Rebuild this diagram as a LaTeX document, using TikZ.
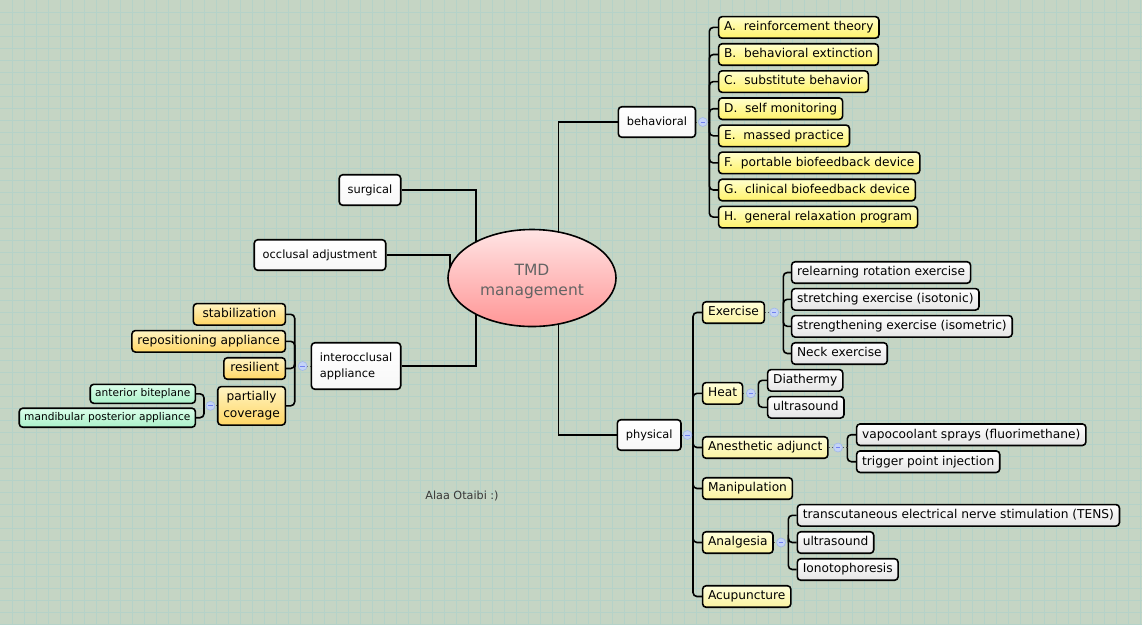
\documentclass[tikz,border=0pt]{standalone}
\usepackage{fontspec}
\setmainfont{DejaVu Sans}
\usetikzlibrary{shapes.geometric,calc}
\pgfdeclarelayer{bg}
\pgfdeclarelayer{edges}
\pgfsetlayers{bg,edges,main}
\definecolor{bgc}{RGB}{197,213,196}
\definecolor{gridc}{RGB}{181,210,200}
\definecolor{yAtop}{RGB}{255,255,205}
\definecolor{yAbot}{RGB}{255,242,105}
\definecolor{yBtop}{RGB}{255,255,220}
\definecolor{yBbot}{RGB}{250,242,160}
\definecolor{oTop}{RGB}{255,244,195}
\definecolor{oBot}{RGB}{255,214,100}
\definecolor{gTop}{RGB}{255,255,255}
\definecolor{gBot}{RGB}{228,228,228}
\definecolor{mTop}{RGB}{220,255,235}
\definecolor{mBot}{RGB}{170,240,200}
\definecolor{pTop}{RGB}{255,228,228}
\definecolor{pBot}{RGB}{255,150,150}
\definecolor{dotfill}{RGB}{196,211,247}
\definecolor{dotdraw}{RGB}{160,184,235}
\definecolor{tmdtext}{RGB}{100,100,100}
\tikzset{
  box/.style={draw=black, line width=1.6pt, rounded corners=3.5pt,
    font=\fontsize{12.2}{15}\selectfont, inner xsep=5.5pt, inner ysep=0pt,
    minimum height=21.5pt, text height=9.2pt, text depth=2.6pt},
  lone/.style={box, font=\fontsize{11.4}{15}\selectfont, inner xsep=8.5pt,
    minimum height=30.5pt, top color=white, bottom color=gray!6},
  ytwo/.style={box, top color=yAtop, bottom color=yAbot},
  ythree/.style={box, top color=yBtop, bottom color=yBbot},
  otwo/.style={box, top color=oTop, bottom color=oBot},
  leaf/.style={box, top color=gTop, bottom color=gBot},
  mint/.style={box, font=\fontsize{10.6}{13}\selectfont, minimum height=19pt,
    text height=8pt, text depth=2.3pt, inner xsep=5pt, top color=mTop, bottom color=mBot},
  edge/.style={draw=black, line width=1.6pt},
  branchline/.style={edge, rounded corners=4pt},
  dotline/.style={draw=black!65, line width=0.9pt, dotted},
  knob/.style={circle, minimum size=9pt, inner sep=0pt, fill=dotfill, draw=dotdraw,
    line width=0.6pt, path picture={\draw[dotdraw!70!blue, line width=0.8pt]
      ([xshift=-2.2pt]path picture bounding box.center) -- ([xshift=2.2pt]path picture bounding box.center);}}
}
\begin{document}
\begin{tikzpicture}[x=1pt,y=-1pt]
\useasboundingbox (0,0) rectangle (1142,625);
\begin{pgfonlayer}{bg}
  \fill[bgc] (0,0) rectangle (1142,625);
  \foreach \i in {12,24,...,1140} \draw[gridc, line width=0.9pt] (\i,0) -- (\i,625);
  \foreach \j in {12,24,...,624} \draw[gridc, line width=0.9pt] (0,\j) -- (1142,\j);
\end{pgfonlayer}

% central node
\node[ellipse, draw=black, line width=1.6pt, minimum width=168pt, minimum height=97pt,
  top color=pTop, bottom color=pBot, inner sep=0pt,
  label={[align=center, font=\fontsize{15.5}{20}\selectfont, text=tmdtext, yshift=-3pt]center:{TMD\\management}}] (tmd) at (532,278) {};

% level one
\node[lone, anchor=west] (behav) at (617.5,122) {behavioral};
\node[lone, anchor=west] (phys) at (616.5,435) {physical};
\node[lone, anchor=east] (surg) at (401.5,190) {surgical};
\node[lone, anchor=east] (occl) at (386.5,255) {occlusal adjustment};
\node[lone, anchor=east, align=left, minimum height=46.5pt, text height=, text depth=,
  font=\fontsize{11.4}{16}\selectfont] (inter) at (401.5,366) {interocclusal\\appliance};

% behavioral children
\node[ytwo, anchor=west] (b1) at (717.8,27.4) {A.\ \ reinforcement theory};
\node[ytwo, anchor=west] (b2) at (717.8,54.5) {B.\ \ behavioral extinction};
\node[ytwo, anchor=west] (b3) at (717.8,81.6) {C.\ \ substitute behavior};
\node[ytwo, anchor=west] (b4) at (717.8,108.7) {D.\ \ self monitoring};
\node[ytwo, anchor=west] (b5) at (717.8,135.8) {E.\ \ massed practice};
\node[ytwo, anchor=west] (b6) at (717.8,162.9) {F.\ \ portable biofeedback device};
\node[ytwo, anchor=west] (b7) at (717.8,190.0) {G.\ \ clinical biofeedback device};
\node[ytwo, anchor=west] (b8) at (717.8,217.1) {H.\ \ general relaxation program};

% physical children
\node[ythree, anchor=west] (p1) at (701.8,312.5) {Exercise};
\node[ythree, anchor=west] (p2) at (701.8,393.3) {Heat};
\node[ythree, anchor=west] (p3) at (701.8,447.5) {Anesthetic adjunct};
\node[ythree, anchor=west] (p4) at (701.8,488.5) {Manipulation};
\node[ythree, anchor=west] (p5) at (701.8,542.5) {Analgesia};
\node[ythree, anchor=west] (p6) at (701.8,596.5) {Acupuncture};

% exercise leaves
\node[leaf, anchor=west] (e1) at (790.8,272.5) {relearning rotation exercise};
\node[leaf, anchor=west] (e2) at (790.8,299.3) {stretching exercise (isotonic)};
\node[leaf, anchor=west] (e3) at (790.8,326.3) {strengthening exercise (isometric)};
\node[leaf, anchor=west] (e4) at (790.8,353.5) {Neck exercise};
% heat leaves
\node[leaf, anchor=west] (h1) at (766.8,380.3) {Diathermy};
\node[leaf, anchor=west] (h2) at (766.8,407.3) {ultrasound};
% anesthetic leaves
\node[leaf, anchor=west] (a1) at (855.8,434.7) {vapocoolant sprays (fluorimethane)};
\node[leaf, anchor=west] (a2) at (855.8,461.7) {trigger point injection};
% analgesia leaves
\node[leaf, anchor=west] (n1) at (796.5,515.3) {transcutaneous electrical nerve stimulation (TENS)};
\node[leaf, anchor=west] (n2) at (796.5,542.5) {ultrasound};
\node[leaf, anchor=west] (n3) at (796.5,569.5) {Ionotophoresis};

% interocclusal children
\node[otwo, anchor=east, minimum width=92pt] (i1) at (286.2,314.3) {stabilization};
\node[otwo, anchor=east] (i2) at (286.2,341.3) {repositioning appliance};
\node[otwo, anchor=east, minimum width=61.5pt] (i3) at (286.2,368.5) {resilient};
\node[otwo, anchor=east, align=center, minimum height=38.5pt, text height=, text depth=,
  font=\fontsize{12.2}{17}\selectfont] (i4) at (286.2,405.8) {partially\\coverage};
% partially coverage children
\node[mint, anchor=east] (c1) at (196.2,393.8) {anterior biteplane};
\node[mint, anchor=east] (c2) at (196.2,417.7) {mandibular posterior appliance};

% signature
\node[font=\fontsize{11.2}{13}\selectfont, text=black!78, inner sep=0pt] (sig) at (462,496) {Alaa Otaibi :)};

% spines
\coordinate (bsp) at (709.3,122);
\coordinate (psp) at (693,435);
\coordinate (esp) at (783.3,312.5);
\coordinate (hsp) at (758.3,393.3);
\coordinate (asp) at (847.3,447.5);
\coordinate (nsp) at (788.3,542.5);
\coordinate (isp) at (294.7,366);
\coordinate (csp) at (204,405.8);

\begin{pgfonlayer}{edges}
  % main connectors
  \draw[edge] ($(tmd.center)+(26.3,0)$) |- (behav.west);
  \draw[edge] ($(tmd.center)+(26.3,0)$) |- (phys.west);
  \draw[edge] (surg.east) -| ($(tmd.center)+(-56,0)$);
  \draw[edge] (occl.east) -| ($(tmd.center)+(-82,0)$);
  \draw[edge] (inter.east) -| ($(tmd.center)+(-56,0)$);
  % dotted links to spines
  \draw[dotline] (behav.east) -- (bsp);
  \draw[dotline] (phys.east) -- (psp);
  \draw[dotline] (p1.east) -- (esp);
  \draw[dotline] (p2.east) -- (hsp);
  \draw[dotline] (p3.east) -- (asp);
  \draw[dotline] (p5.east) -- (nsp);
  \draw[dotline] (inter.west) -- (isp);
  \draw[dotline] (i4.west) -- (csp);
  % branches
  \foreach \c in {b1,b2,b3,b4,b5,b6,b7,b8} \draw[branchline] (bsp) |- (\c.west);
  \foreach \c in {p1,p2,p3,p4,p5,p6} \draw[branchline] (psp) |- (\c.west);
  \foreach \c in {e1,e2,e3,e4} \draw[branchline] (esp) |- (\c.west);
  \foreach \c in {h1,h2} \draw[branchline] (hsp) |- (\c.west);
  \foreach \c in {a1,a2} \draw[branchline] (asp) |- (\c.west);
  \foreach \c in {n1,n2,n3} \draw[branchline] (nsp) |- (\c.west);
  \foreach \c in {i1,i2,i3,i4} \draw[branchline] (isp) |- (\c.east);
  \foreach \c in {c1,c2} \draw[branchline] (csp) |- (\c.east);
\end{pgfonlayer}

% collapse knobs
\node[knob] (k1) at ($(behav.east)!0.5!(bsp)$) {};
\node[knob] (k2) at ($(phys.east)!0.5!(psp)$) {};
\node[knob] (k3) at ($(p1.east)!0.5!(esp)$) {};
\node[knob] (k4) at ($(p2.east)!0.5!(hsp)$) {};
\node[knob] (k5) at ($(p3.east)!0.5!(asp)$) {};
\node[knob] (k6) at ($(p5.east)!0.5!(nsp)$) {};
\node[knob] (k7) at ($(inter.west)!0.5!(isp)$) {};
\node[knob] (k8) at ($(i4.west)!0.5!(csp)$) {};
\end{tikzpicture}
\end{document}
